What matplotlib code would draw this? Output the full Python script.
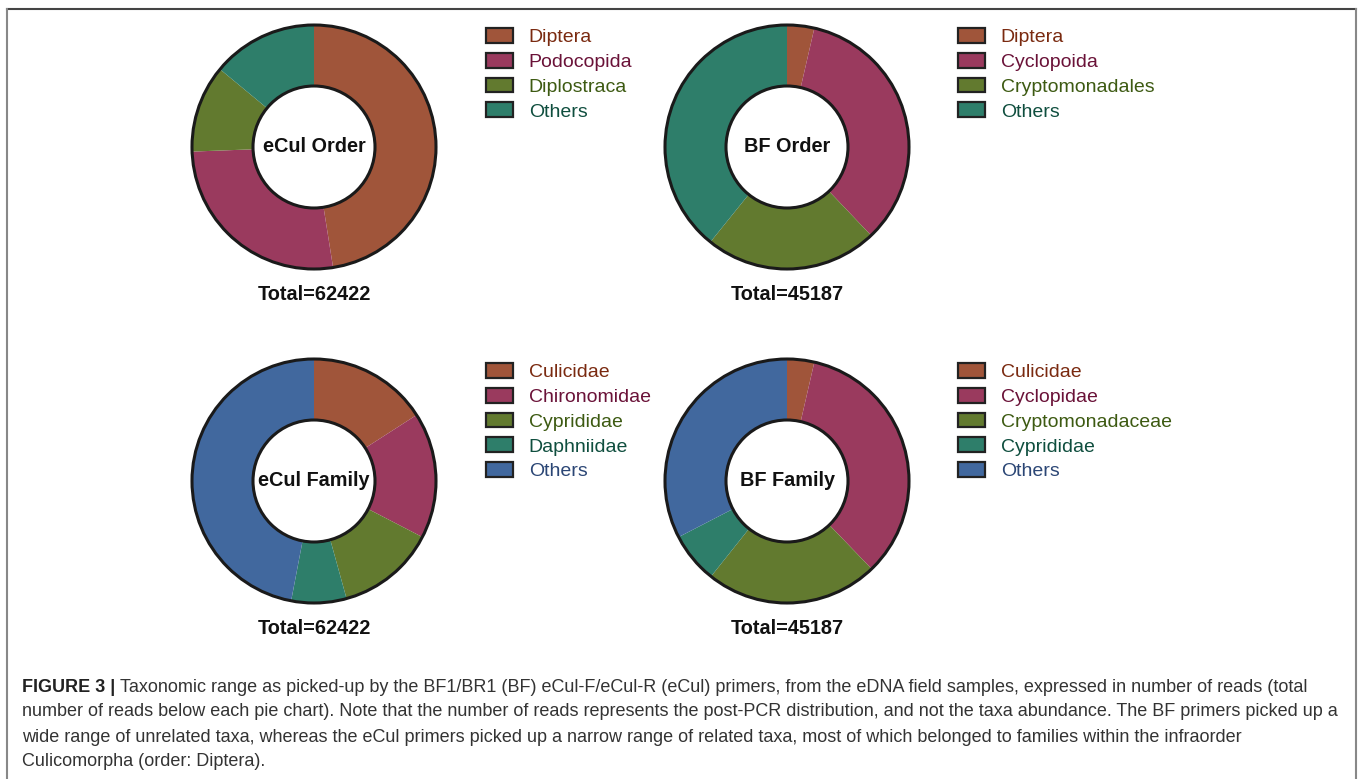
import matplotlib
matplotlib.use("Agg")
import matplotlib.pyplot as plt
from matplotlib.patches import Patch, Circle
from matplotlib.lines import Line2D

plt.rcParams['font.family'] = ['Liberation Sans', 'DejaVu Sans']

W, H = 1358, 779
DPI = 100

# data (percent of reads)
ecul_order_labels = ["Diptera", "Podocopida", "Diplostraca", "Others"]
ecul_order_values = [47.5, 26.9, 11.6, 14.0]
bf_order_labels = ["Diptera", "Cyclopoida", "Cryptomonadales", "Others"]
bf_order_values = [3.6, 34.3, 22.9, 39.2]
ecul_family_labels = ["Culicidae", "Chironomidae", "Cyprididae", "Daphniidae", "Others"]
ecul_family_values = [15.9, 16.7, 13.1, 7.3, 47.0]
bf_family_labels = ["Culicidae", "Cyclopidae", "Cryptomonadaceae", "Cyprididae", "Others"]
bf_family_values = [3.6, 34.2, 22.9, 6.7, 32.6]
titles = ["eCul Order", "BF Order", "eCul Family", "BF Family"]
totals = [62422, 45187, 62422, 45187]

order_colors = ["#A0553A", "#9A3A5E", "#627A2F", "#2E7E6A"]
order_text = ["#7A2A10", "#6A1238", "#3D5A12", "#0F4E3E"]
family_colors = ["#A0553A", "#9A3A5E", "#627A2F", "#2E7E6A", "#41689E"]
family_text = ["#7A2A10", "#6A1238", "#3D5A12", "#0F4E3E", "#2B4675"]

caption_bold = "FIGURE 3 | "
caption_lines = [
    "Taxonomic range as picked-up by the BF1/BR1 (BF) eCul-F/eCul-R (eCul) primers, from the eDNA field samples, expressed in number of reads (total",
    "number of reads below each pie chart). Note that the number of reads represents the post-PCR distribution, and not the taxa abundance. The BF primers picked up a",
    "wide range of unrelated taxa, whereas the eCul primers picked up a narrow range of related taxa, most of which belonged to families within the infraorder",
    "Culicomorpha (order: Diptera).",
]

fig = plt.figure(figsize=(W / DPI, H / DPI), dpi=DPI)

R = 122  # outer radius in px


def donut(cx, cy, values, colors, title, total, labels, tcolors, legx, legy):
    ax = fig.add_axes([(cx - R - 4) / W, 1 - (cy + R + 4) / H, (2 * R + 8) / W, (2 * R + 8) / H])
    ax.pie(values, colors=colors, startangle=90, counterclock=False, radius=1,
           wedgeprops=dict(width=0.5, linewidth=0))
    ax.add_patch(Circle((0, 0), 1, fill=False, ec="#1a1a1a", lw=2.2))
    ax.add_patch(Circle((0, 0), 0.5, fill=False, ec="#1a1a1a", lw=2.2))
    lim = (R + 4) / R
    ax.set_xlim(-lim, lim)
    ax.set_ylim(-lim, lim)
    ax.set_aspect("equal")
    ax.axis("off")
    ax.text(0, 0, title, ha="center", va="center", fontsize=14.3, fontweight="bold", color="#111111")
    fig.text(cx / W, 1 - (cy + 148) / H, f"Total={total}", ha="center", va="center",
             fontsize=14.3, fontweight="bold", color="#111111")
    handles = [Patch(facecolor=c, edgecolor="#222222", linewidth=1.6) for c in colors]
    fig.legend(handles, labels, loc="upper left", bbox_to_anchor=(legx / W, 1 - legy / H),
               frameon=False, fontsize=14, labelcolor=tcolors, handlelength=1.4,
               handleheight=0.8, handletextpad=0.8, labelspacing=0.34,
               borderpad=0, borderaxespad=0)


donut(314, 147, ecul_order_values, order_colors, titles[0], totals[0],
      ecul_order_labels, order_text, 486, 28)
donut(787, 147, bf_order_values, order_colors, titles[1], totals[1],
      bf_order_labels, order_text, 958, 28)
donut(314, 481, ecul_family_values, family_colors, titles[2], totals[2],
      ecul_family_labels, family_text, 486, 363)
donut(787, 481, bf_family_values, family_colors, titles[3], totals[3],
      bf_family_labels, family_text, 958, 363)

# frame around the figure panel
fig.add_artist(Line2D([7 / W, 1356 / W], [1 - 9 / H, 1 - 9 / H], color="#444444", lw=1.5))
fig.add_artist(Line2D([7 / W, 7 / W], [1 - 9 / H, 0], color="#888888", lw=1.5))
fig.add_artist(Line2D([1356 / W, 1356 / W], [1 - 9 / H, 0], color="#888888", lw=1.5))

# caption
renderer = fig.canvas.get_renderer()
cap_y = [687, 712, 737, 761]
bt = fig.text(22 / W, 1 - cap_y[0] / H, caption_bold, fontsize=12.95, fontweight="bold",
              color="#222222", va="center", ha="left")
bw = bt.get_window_extent(renderer).width
for i, line in enumerate(caption_lines):
    x0 = 22 + (bw if i == 0 else 0)
    fig.text(x0 / W, 1 - cap_y[i] / H, line, fontsize=12.95, color="#333333", va="center", ha="left")

fig.savefig("out.png", dpi=DPI)
